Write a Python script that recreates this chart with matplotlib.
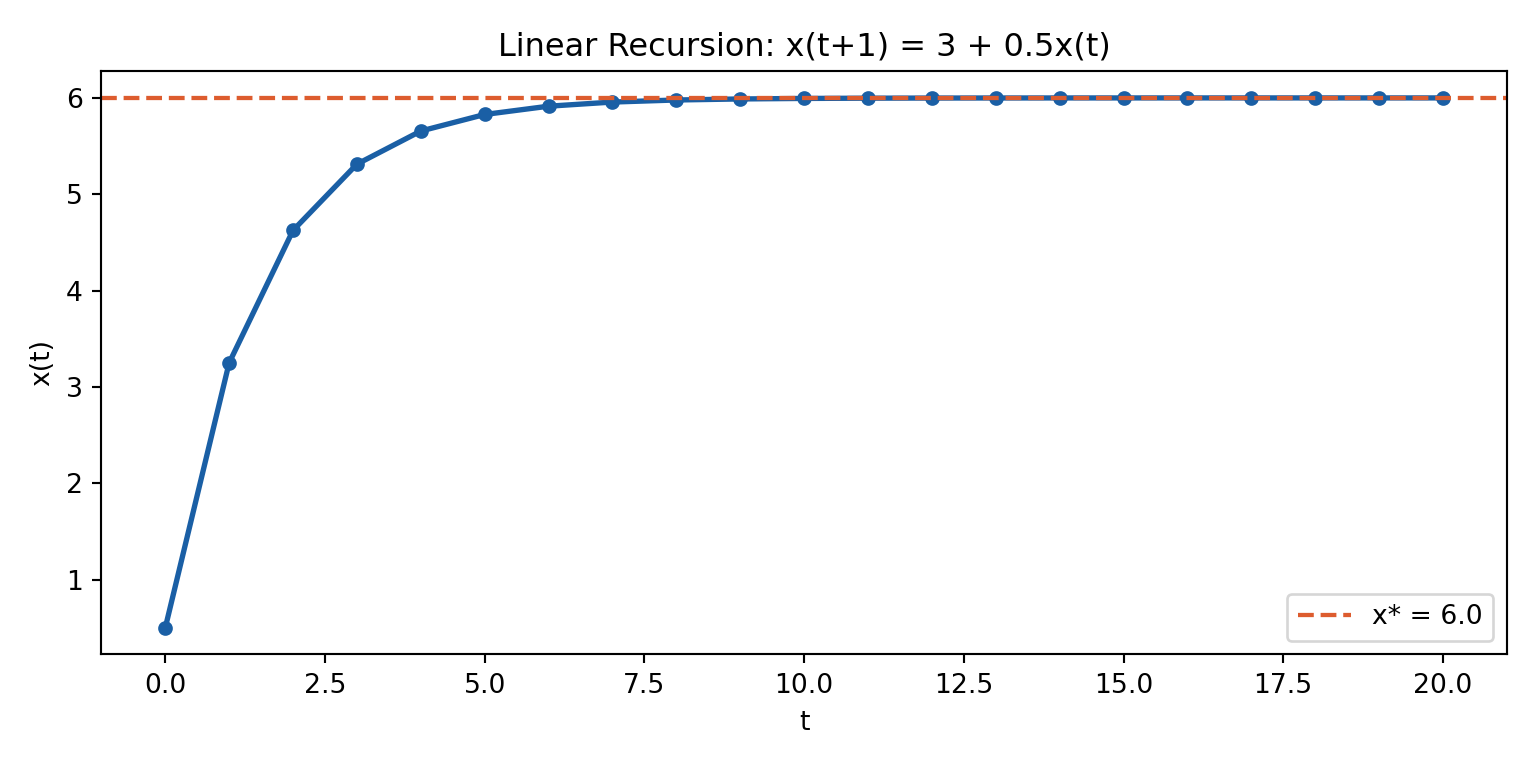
import matplotlib.pyplot as plt

# values
t = list(range(21))
x = [0.5, 3.25, 4.625, 5.3125, 5.65625, 5.828125, 5.9140625, 5.95703125,
     5.978515625, 5.9892578125, 5.99462890625, 5.997314453125, 5.9986572265625,
     5.99932861328125, 5.999664306640625, 5.9998321533203125, 5.999916076660156,
     5.999958038330078, 5.999979019165039, 5.99998950958252, 5.99999475479126]
x_star = 6.0

fig, ax = plt.subplots(figsize=(8, 4), dpi=192)

ax.plot(t, x, '-o', color='#1a5fa5', linewidth=2, markersize=4.5)
ax.axhline(x_star, color='#dd5c2e', linestyle='--', linewidth=1.6, label=f'x* = {x_star}')

ax.set_title('Linear Recursion: x(t+1) = 3 + 0.5x(t)')
ax.set_xlabel('t')
ax.set_ylabel('x(t)')
ax.legend(loc='lower right')

fig.subplots_adjust(left=0.066, right=0.981, top=0.907, bottom=0.148)
fig.savefig('out.png')
